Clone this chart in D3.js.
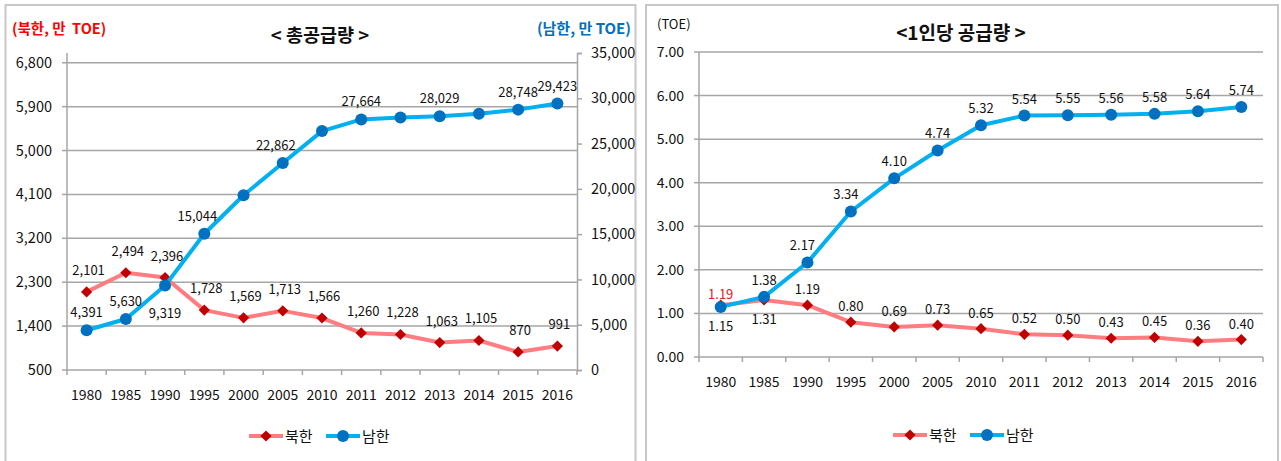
<!DOCTYPE html>
<html>
<head>
<meta charset="utf-8">
<script src="https://cdn.jsdelivr.net/npm/d3@7"></script>
<style>
  body { margin: 0; background: #fff; }
  text { font-family: "Noto Sans CJK KR", "Noto Sans", sans-serif; fill: #111; }
</style>
</head>
<body>
<div id="chart"></div>
<script>
// data
var years = ["1980", "1985", "1990", "1995", "2000", "2005", "2010", "2011", "2012", "2013", "2014", "2015", "2016"];

// total supply (10k TOE)
var northTotal = [2101, 2494, 2396, 1728, 1569, 1713, 1566, 1260, 1228, 1063, 1105, 870, 991];
var southTotal = [4391, 5630, 9319, 15044, 19290, 22862, 26380, 27664, 27870, 28029, 28290, 28748, 29423];
var northTotalLabels = ["2,101", "2,494", "2,396", "1,728", "1,569", "1,713", "1,566", "1,260", "1,228", "1,063", "1,105", "870", "991"];
var southTotalLabels = ["4,391", "5,630", "9,319", "15,044", "", "22,862", "", "27,664", "", "28,029", "", "28,748", "29,423"];

// per capita supply (TOE)
var northPerCapita = [1.19, 1.31, 1.19, 0.80, 0.69, 0.73, 0.65, 0.52, 0.50, 0.43, 0.45, 0.36, 0.40];
var southPerCapita = [1.15, 1.38, 2.17, 3.34, 4.10, 4.74, 5.32, 5.54, 5.55, 5.56, 5.58, 5.64, 5.74];

// axis ticks
var leftTicks = [500, 1400, 2300, 3200, 4100, 5000, 5900, 6800];
var rightTicks = [0, 5000, 10000, 15000, 20000, 25000, 30000, 35000];
var perCapitaTicks = [0, 1, 2, 3, 4, 5, 6, 7];

var seriesNames = ["북한", "남한"];

var northLine = "#ff7c80", northMark = "#c00000";
var southLine = "#00b0f0", southMark = "#0070c0";
var gridColor = "#a6a6a6";

var svg = d3.select("#chart").append("svg")
  .attr("width", 1281)
  .attr("height", 461);

var comma = d3.format(",");

// panel frames
svg.append("rect").attr("x", 5.5).attr("y", 5).attr("width", 630).attr("height", 470)
  .attr("fill", "none").attr("stroke", "#c8c8c8").attr("stroke-width", 2);
svg.append("rect").attr("x", 646).attr("y", 5).attr("width", 632).attr("height", 470)
  .attr("fill", "none").attr("stroke", "#c8c8c8").attr("stroke-width", 2);

function drawMarker(g, kind, x, y) {
  if (kind == "north") {
    g.append("path")
      .attr("d", d3.symbol().type(d3.symbolDiamond2).size(80)())
      .attr("transform", `translate(${x},${y})`)
      .attr("fill", northMark);
  } else {
    g.append("circle").attr("cx", x).attr("cy", y).attr("r", 6).attr("fill", southMark);
  }
}

function drawSeries(g, xScale, yScale, values, kind) {
  var half = xScale.bandwidth() / 2;
  var line = d3.line()
    .x((d, i) => xScale(years[i]) + half)
    .y(d => yScale(d));
  g.append("path")
    .datum(values)
    .attr("d", line)
    .attr("fill", "none")
    .attr("stroke", kind == "north" ? northLine : southLine)
    .attr("stroke-width", 4)
    .attr("stroke-linejoin", "round");
  values.forEach(function(v, i) {
    drawMarker(g, kind, xScale(years[i]) + half, yScale(v));
  });
}

function drawLegend(g, cx, y) {
  var left = cx - 71;
  var items = [{ kind: "north", x: left }, { kind: "south", x: left + 77 }];
  items.forEach(function(it, i) {
    g.append("line")
      .attr("x1", it.x).attr("x2", it.x + 34)
      .attr("y1", y).attr("y2", y)
      .attr("stroke", it.kind == "north" ? northLine : southLine)
      .attr("stroke-width", 4);
    drawMarker(g, it.kind, it.x + 17, y);
    g.append("text")
      .attr("x", it.x + 36).attr("y", y + 5.5)
      .style("font-size", "15px")
      .text(seriesNames[i]);
  });
}

function drawXAxis(g, xScale, y) {
  var bw = xScale.bandwidth();
  var r = xScale.range();
  g.append("line").attr("x1", r[0]).attr("x2", r[1]).attr("y1", y).attr("y2", y)
    .attr("stroke", gridColor).attr("stroke-width", 1.5);
  years.forEach(function(yr) {
    g.append("line")
      .attr("x1", xScale(yr)).attr("x2", xScale(yr))
      .attr("y1", y).attr("y2", y + 5)
      .attr("stroke", gridColor).attr("stroke-width", 1.5);
  });
  g.append("line").attr("x1", r[1]).attr("x2", r[1]).attr("y1", y).attr("y2", y + 5)
    .attr("stroke", gridColor).attr("stroke-width", 1.5);
  g.selectAll(null)
    .data(years)
    .enter()
    .append("text")
    .attr("x", d => xScale(d) + bw / 2)
    .attr("y", y + 30)
    .attr("text-anchor", "middle")
    .style("font-size", "14px")
    .text(d => d);
}

// ---------- left: total supply ----------
var g1 = svg.append("g");
var x1 = d3.scaleBand().domain(years).range([67, 577]);
var yLeft = d3.scaleLinear().domain([500, 7000]).range([370, 53]);
var yRight = d3.scaleLinear().domain([0, 35000]).range([370, 53]);

leftTicks.forEach(function(t) {
  if (t > 500) {
    g1.append("line").attr("x1", 67).attr("x2", 577)
      .attr("y1", yLeft(t)).attr("y2", yLeft(t))
      .attr("stroke", gridColor).attr("stroke-width", 1.5);
  }
  g1.append("line").attr("x1", 62).attr("x2", 67)
    .attr("y1", yLeft(t)).attr("y2", yLeft(t))
    .attr("stroke", gridColor).attr("stroke-width", 1.5);
  g1.append("text")
    .attr("x", 52).attr("y", yLeft(t) + 5)
    .attr("text-anchor", "end")
    .style("font-size", "14.5px")
    .text(comma(t));
});
g1.append("line").attr("x1", 67).attr("x2", 67).attr("y1", 53).attr("y2", 370)
  .attr("stroke", gridColor).attr("stroke-width", 1.5);

var rightAxis = d3.axisRight(yRight).tickValues(rightTicks).tickSize(5).tickPadding(9).tickFormat(comma);
var ra = g1.append("g").attr("transform", "translate(577,0)").call(rightAxis);
ra.select(".domain").attr("stroke", gridColor).attr("stroke-width", 1.5);
ra.selectAll(".tick line").attr("stroke", gridColor).attr("stroke-width", 1.5);
ra.selectAll(".tick text").style("font-size", "14.5px").attr("fill", "#111")
  .style("font-family", "'Noto Sans CJK KR', sans-serif");

drawXAxis(g1, x1, 370);

drawSeries(g1, x1, yLeft, northTotal, "north");
drawSeries(g1, x1, yRight, southTotal, "south");

var half1 = x1.bandwidth() / 2;
northTotal.forEach(function(v, i) {
  g1.append("text")
    .attr("x", x1(years[i]) + half1 + 2)
    .attr("y", yLeft(v) - 17)
    .attr("text-anchor", "middle")
    .style("font-size", "13px")
    .text(northTotalLabels[i]);
});
southTotal.forEach(function(v, i) {
  if (!southTotalLabels[i]) return;
  var below = (i == 2);
  var dx = (i == 3 || i == 5) ? -7 : 0;
  g1.append("text")
    .attr("x", x1(years[i]) + half1 + dx)
    .attr("y", below ? yRight(v) + 32 : yRight(v) - 13)
    .attr("text-anchor", "middle")
    .style("font-size", "13px")
    .text(southTotalLabels[i]);
});

g1.append("text").attr("x", 12).attr("y", 34)
  .style("font-size", "14.5px").style("font-weight", "bold")
  .style("fill", "#ff0000")
  .text("(북한, 만\u00a0 TOE)");
g1.append("text").attr("x", 631).attr("y", 34)
  .attr("text-anchor", "end")
  .style("font-size", "15px").style("font-weight", "bold")
  .style("fill", "#0070c0")
  .text("(남한, 만 TOE)");
g1.append("text").attr("x", 320).attr("y", 42)
  .attr("text-anchor", "middle")
  .style("font-size", "18.5px").style("font-weight", "bold")
  .text("< 총공급량 >");

drawLegend(g1, 320, 436);

// ---------- right: per capita ----------
var g2 = svg.append("g");
var x2 = d3.scaleBand().domain(years).range([699, 1263]);
var y2 = d3.scaleLinear().domain([0, 7]).range([357, 52]);

perCapitaTicks.forEach(function(t) {
  if (t > 0) {
    g2.append("line").attr("x1", 699).attr("x2", 1263)
      .attr("y1", y2(t)).attr("y2", y2(t))
      .attr("stroke", gridColor).attr("stroke-width", 1.5);
  }
  g2.append("line").attr("x1", 694).attr("x2", 699)
    .attr("y1", y2(t)).attr("y2", y2(t))
    .attr("stroke", gridColor).attr("stroke-width", 1.5);
  g2.append("text")
    .attr("x", 684).attr("y", y2(t) + 5)
    .attr("text-anchor", "end")
    .style("font-size", "14px")
    .text(d3.format(".2f")(t));
});
g2.append("line").attr("x1", 699).attr("x2", 699).attr("y1", 52).attr("y2", 357)
  .attr("stroke", gridColor).attr("stroke-width", 1.5);

drawXAxis(g2, x2, 357);

drawSeries(g2, x2, y2, northPerCapita, "north");
drawSeries(g2, x2, y2, southPerCapita, "south");

var half2 = x2.bandwidth() / 2;
northPerCapita.forEach(function(v, i) {
  var yy = y2(v) - 11;
  var color = "#111";
  if (i == 0) { yy = y2(v) - 6; color = "#e02020"; }
  if (i == 1) { yy = y2(v) + 24; }
  g2.append("text")
    .attr("x", x2(years[i]) + half2)
    .attr("y", yy)
    .attr("text-anchor", "middle")
    .style("font-size", "13px")
    .style("fill", color)
    .text(d3.format(".2f")(v));
});
southPerCapita.forEach(function(v, i) {
  var yy = y2(v) - 12;
  if (i == 0) yy = y2(v) + 24;
  var dx = (i >= 2 && i <= 3) ? -5 : 0;
  g2.append("text")
    .attr("x", x2(years[i]) + half2 + dx)
    .attr("y", yy)
    .attr("text-anchor", "middle")
    .style("font-size", "13px")
    .text(d3.format(".2f")(v));
});

g2.append("text").attr("x", 657).attr("y", 29)
  .style("font-size", "13px")
  .text("(TOE)");
g2.append("text").attr("x", 961).attr("y", 40)
  .attr("text-anchor", "middle")
  .style("font-size", "19px").style("font-weight", "bold")
  .text("<1인당 공급량 >");

drawLegend(g2, 964, 435);
</script>
</body>
</html>
